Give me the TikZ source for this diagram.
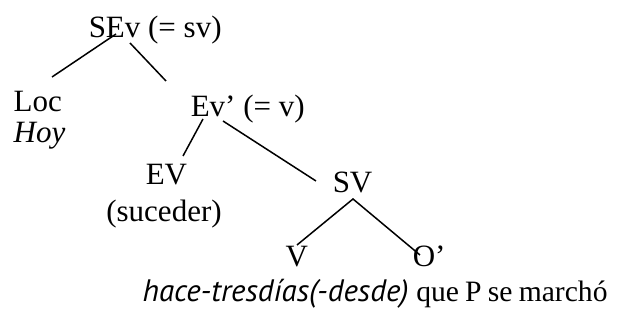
\documentclass[tikz,border=0pt]{standalone}
\usepackage{fontspec}
\setmainfont{Liberation Serif}
\newfontfamily\glosssans{PT Sans}
\usetikzlibrary{calc}
\tikzset{cat/.style={inner sep=0pt, anchor=base west, font=\fontsize{15.5}{18}\selectfont}}

\begin{document}
\begin{tikzpicture}[x=0.5pt,y=-0.5pt,line width=0.75pt]
    \useasboundingbox (0,0) rectangle (634,320);
    \node[cat] (sev) at (88,38) {SEv (= sv)};
    \node[cat] (loc) at (13,112) {Loc};
    \node[cat] (hoy) at (13,143) {\textit{Hoy}};
    \node[cat] (evp) at (190,117) {Ev' (= v)};
    \node[cat] (ev) at (145,185) {EV};
    \node[cat, anchor=base] (suc) at (164,222) {(suceder)};
    \node[cat] (sv) at (332,193) {SV};
    \node[cat] (v) at (285,267) {V};
    \node[cat] (op) at (412,267) {O'};
    \node[cat] (gloss) at (142,302) {{\glosssans\itshape hace-tresdías(-desde)} {\fontsize{14.8}{18}\selectfont\spaceskip=0.21em que P se marchó}};
    \draw ($(sev.base west)+(28,-4)$) -- ($(loc.base west)+(39,-35)$);
    \draw ($(sev.base west)+(42,5)$) -- ($(evp.base west)+(-24,-36)$);
    \draw ($(evp.base west)+(13,2)$) -- ($(ev.base west)+(38,-29)$);
    \draw ($(evp.base west)+(33,4)$) -- ($(sv.base west)+(-16,-12)$);
    \draw ($(v.base west)+(12,-22)$) -- ($(sv.base west)+(21,6)$) -- ($(op.base west)+(8,-12)$);
\end{tikzpicture}
\end{document}
